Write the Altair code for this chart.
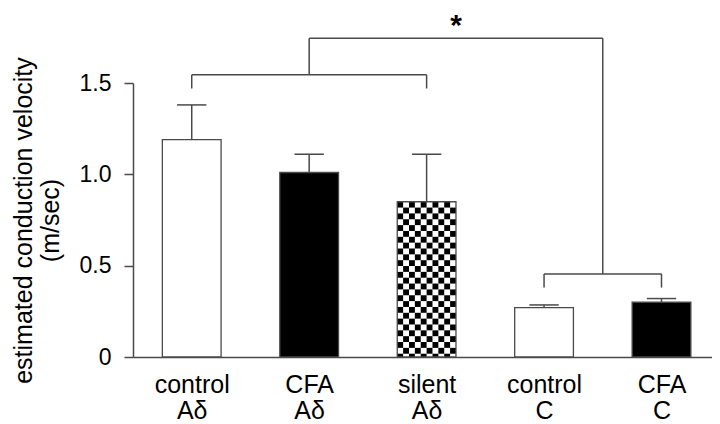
import json
import altair as alt
import pandas as pd
import numpy as np

# ---- data ----
categories = ["control|Aδ", "CFA|Aδ", "silent|Aδ", "control|C", "CFA|C"]
means = [1.19, 1.01, 0.85, 0.27, 0.30]
err_tops = [1.38, 1.11, 1.11, 0.285, 0.32]
fills = ["#ffffff", "#000000", "#ffffff", "#ffffff", "#000000"]
patterned = [False, False, True, False, False]

# significance brackets (data units)
a_drop, a_level = 1.47, 1.545
c_drop, c_level = 0.38, 0.455
top_level = 1.745
star_y = 1.762

y_ticks = [0, 0.5, 1.0, 1.5]
y_title = ["estimated conduction velocity", "(m/sec)"]

FONT = "Liberation Sans"
LINE = "#4a4a4a"

idx = list(range(len(categories)))
half = 0.25
bars = pd.DataFrame({
    "x": [i - half for i in idx],
    "x2": [i + half for i in idx],
    "y": [0.0] * len(idx),
    "y2": means,
    "fill": fills,
})
errs = pd.DataFrame({
    "x": idx, "y": means, "y2": err_tops,
    "cx": [i - half / 2 for i in idx], "cx2": [i + half / 2 for i in idx],
})

# checkerboard texture for the patterned bar
cells = []
ncol = 10
cell_h = 0.032
for i in idx:
    if not patterned[i]:
        continue
    w = 2 * half / ncol
    nrow = int(np.ceil(means[i] / cell_h))
    for r in range(nrow):
        top = means[i] - r * cell_h
        bot = max(means[i] - (r + 1) * cell_h, 0)
        for c in range(ncol):
            if (r + c) % 2 == 0:
                cells.append({"x": i - half + c * w, "x2": i - half + (c + 1) * w,
                              "y": bot, "y2": top})
cells = pd.DataFrame(cells)

a_left, a_right, a_mid = 0, 2, 1
c_left, c_right = 3, 4
c_mid = (c_left + c_right) / 2
brackets = pd.DataFrame([
    {"x": a_left, "x2": a_right, "y": a_level, "y2": a_level},
    {"x": a_left, "x2": a_left, "y": a_drop, "y2": a_level},
    {"x": a_right, "x2": a_right, "y": a_drop, "y2": a_level},
    {"x": c_left, "x2": c_right, "y": c_level, "y2": c_level},
    {"x": c_left, "x2": c_left, "y": c_drop, "y2": c_level},
    {"x": c_right, "x2": c_right, "y": c_drop, "y2": c_level},
    {"x": a_mid, "x2": a_mid, "y": a_level, "y2": top_level},
    {"x": c_mid, "x2": c_mid, "y": c_level, "y2": top_level},
    {"x": a_mid, "x2": c_mid, "y": top_level, "y2": top_level},
])
star = pd.DataFrame({"x": [(a_mid + c_mid) / 2], "y": [star_y], "t": ["*"]})

label_expr = "split(" + json.dumps(categories) + "[round(datum.value)], '|')"

x_scale = alt.Scale(domain=[-0.5, 4.43], nice=False, zero=False)
y_scale = alt.Scale(domain=[0, 1.5], nice=False, zero=True)

x_axis = alt.Axis(values=idx, ticks=False, tickSize=0, grid=False, title=None,
                  labelExpr=label_expr, labelFont=FONT, labelFontSize=25,
                  labelColor="#000000", labelLineHeight=26, labelBaseline="alphabetic",
                  labelPadding=35, domainColor=LINE, domainWidth=1.5, labelFlush=False,
                  labelOverlap=False)
y_axis = alt.Axis(values=y_ticks, grid=False, tickSize=9, tickColor=LINE, tickWidth=1.5,
                  domainColor=LINE, domainWidth=1.5,
                  labelExpr="datum.value == 0 ? '0' : format(datum.value, '.1f')",
                  labelFont=FONT, labelFontSize=23, labelColor="#000000", labelPadding=13,
                  title=y_title, titleFont=FONT, titleFontSize=25, titleFontWeight="normal",
                  titleColor="#000000", titleLineHeight=27, titleAngle=270,
                  titleAlign="center", titleBaseline="alphabetic", titleX=-102, titleY=137)


def X(field="x"):
    return alt.X(f"{field}:Q", scale=x_scale, axis=x_axis)


def Y(field="y"):
    return alt.Y(f"{field}:Q", scale=y_scale, axis=y_axis)


err_line = alt.Chart(errs).mark_rule(color=LINE, strokeWidth=1.5).encode(
    x=X("x"), y=Y("y"), y2="y2:Q")
err_cap = alt.Chart(errs).mark_rule(color=LINE, strokeWidth=1.5).encode(
    x=X("cx"), x2="cx2:Q", y=Y("y2"))
bar_fill = alt.Chart(bars).mark_rect(strokeWidth=0).encode(
    x=X("x"), x2="x2:Q", y=Y("y"), y2="y2:Q",
    fill=alt.Fill("fill:N", scale=None))
cell_layer = alt.Chart(cells).mark_rect(color="#000000", strokeWidth=0).encode(
    x=X("x"), x2="x2:Q", y=Y("y"), y2="y2:Q")
bar_outline = alt.Chart(bars).mark_rect(filled=False, stroke=LINE, strokeWidth=1.3).encode(
    x=X("x"), x2="x2:Q", y=Y("y"), y2="y2:Q")
bracket_layer = alt.Chart(brackets).mark_rule(color=LINE, strokeWidth=1.5, clip=False).encode(
    x=X("x"), x2="x2:Q", y=Y("y"), y2="y2:Q")
star_layer = alt.Chart(star).mark_text(font=FONT, fontSize=30, fontWeight="bold",
                                       baseline="alphabetic", align="center",
                                       color="#000000").encode(
    x=X("x"), y=Y("y"), text="t:N")

chart = alt.layer(err_line, err_cap, bar_fill, cell_layer, bar_outline,
                  bracket_layer, star_layer).properties(
    width=579, height=274,
    padding={"left": 125, "top": 75, "right": 0, "bottom": 67},
    autosize=alt.AutoSizeParams(type="none"),
).configure_view(stroke=None)

chart.save("out.html", embed_options={"renderer": "svg", "actions": False})
